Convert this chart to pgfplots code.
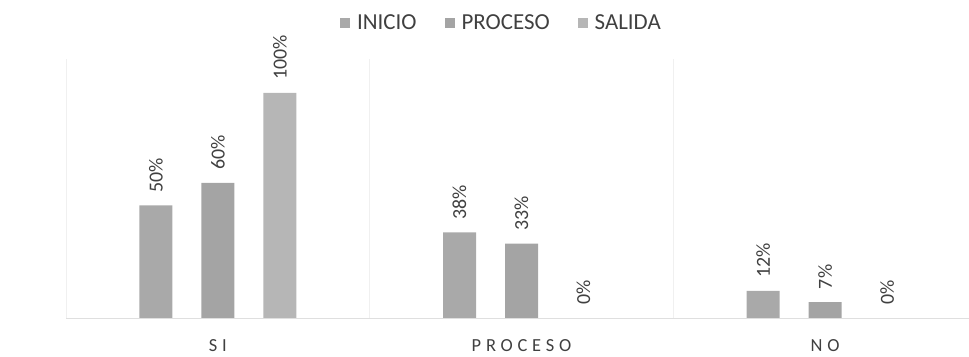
\documentclass[border=0pt]{standalone}
\usepackage{pgfplots}
\pgfplotsset{compat=1.18}
\usepackage{fontspec}
\setmainfont{Carlito}
\newfontfamily\spaced[LetterSpace=26]{Carlito}
\definecolor{cIni}{HTML}{A9A9A9}
\definecolor{cPro}{HTML}{A4A4A4}
\definecolor{cSal}{HTML}{B6B6B6}
\definecolor{txt}{HTML}{404040}
\begin{document}
\begin{tikzpicture}
\useasboundingbox (0,0) rectangle (969bp,357bp);
\begin{axis}[
  at={(66bp,39bp)}, anchor=south west,
  scale only axis, width=911bp, height=258.75bp,
  ybar, bar width=33bp,
  xmin=-0.5, xmax=2.5, ymin=0, ymax=115,
  xtick={0,1,2}, xticklabels={SI,PROCESO,NO},
  major tick length=0pt,
  ytick=\empty,
  axis x line*=bottom, axis y line=none,
  x axis line style={draw=gray!25, line width=0.8pt},
  xticklabel style={font=\spaced\fontsize{18.5}{20}\selectfont, text=txt, inner sep=0pt, yshift=-21bp},
  extra x ticks={-0.5,0.5,1.5,2.5}, extra x tick labels={},
  extra x tick style={grid=major, major grid style={gray!12, line width=0.8pt}},
  /pgf/number format/assume math mode=true,
  nodes near coords={\pgfmathprintnumber{\pgfplotspointmeta}\%},
  every node near coord/.append style={rotate=90, anchor=west, inner xsep=13bp, inner ysep=0pt, font=\fontsize{20}{22}\selectfont, text=txt},
  legend columns=3,
  legend style={at={(0.478,1.14)}, anchor=center, draw=none, fill=none, font=\fontsize{23}{26}\selectfont, text=txt,
    /tikz/every odd column/.append style={column sep=5bp},
    /tikz/every even column/.append style={column sep=26bp}},
  legend image code/.code={\fill[#1] (0bp,-5bp) rectangle (10bp,5bp);},
]
\addplot[fill=cIni, draw=none, bar shift=-62bp] coordinates {(0,50) (1,38) (2,12)};
\addplot[fill=cPro, draw=none, bar shift=0bp] coordinates {(0,60) (1,33) (2,7)};
\addplot[fill=cSal, draw=none, bar shift=62bp] coordinates {(0,100) (1,0) (2,0)};
\legend{INICIO,PROCESO,SALIDA}
\end{axis}
\end{tikzpicture}
\end{document}
